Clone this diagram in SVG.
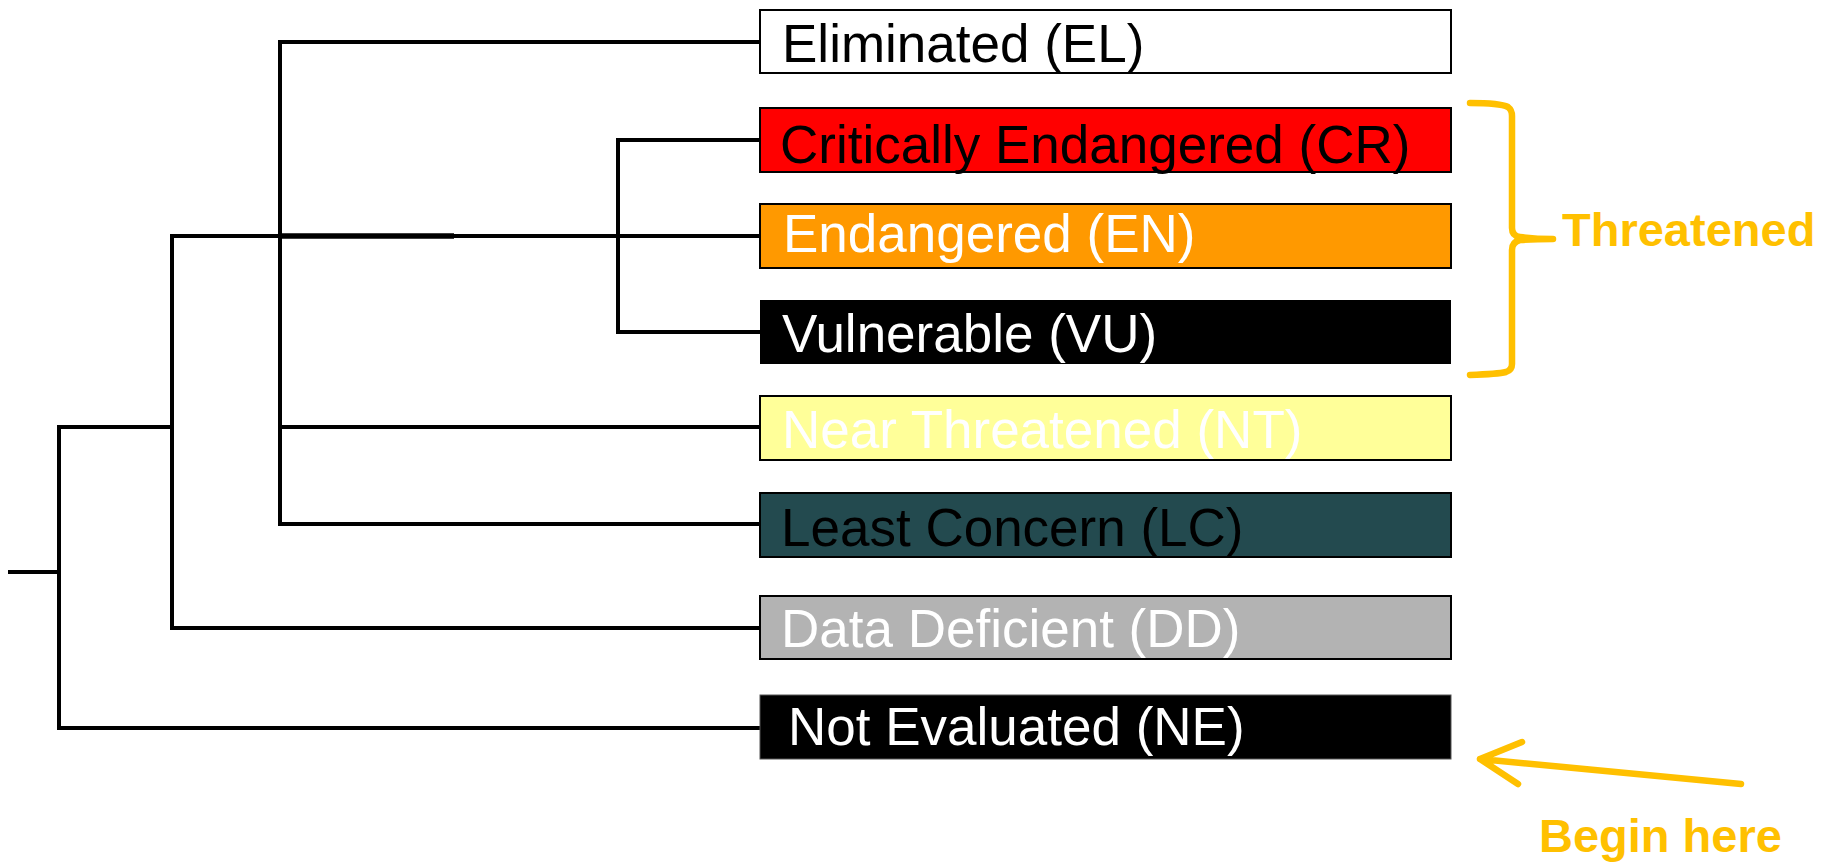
<svg xmlns="http://www.w3.org/2000/svg" width="1831" height="864" viewBox="0 0 1831 864">
<defs>
<style>
.box{stroke:#000;stroke-width:2}
.lbl{font-family:"Liberation Sans",Arial,sans-serif;font-size:53px}
.w{fill:#fff}
.k{fill:#000}
.tree{stroke:#000;stroke-width:4;fill:none;stroke-linecap:square}
.gold{stroke:#FFC000;stroke-width:6.5;fill:none;stroke-linecap:round;stroke-linejoin:round}
.gtxt{font-family:"Liberation Sans",Arial,sans-serif;font-size:47px;font-weight:bold;fill:#FFC000}
</style>
</defs>
<rect width="1831" height="864" fill="#fff"/>
<g id="connectors" class="tree">
<path d="M10 572H59M59 427V728M59 427H172M59 728H760"/>
<path d="M172 236V628M172 236H760M172 628H760"/>
<path d="M280 42V524M280 42H760M280 427H760M280 524H760"/>
<path d="M618 140V332M618 140H760M618 332H760"/>
<path d="M282 236H454" stroke-width="5.5" stroke-linecap="butt"/>
</g>
<g id="node-EL"><rect class="box" x="760" y="10" width="691" height="63" fill="#fff"/><text class="lbl k" x="782" y="62">Eliminated (EL)</text></g>
<g id="node-CR"><rect class="box" x="760" y="108" width="691" height="64" fill="#f00"/><text class="lbl k" x="780" y="163">Critically Endangered (CR)</text></g>
<g id="node-EN"><rect class="box" x="760" y="204" width="691" height="64" fill="#f90"/><text class="lbl w" x="783" y="252">Endangered (EN)</text></g>
<g id="node-VU"><rect x="760" y="300" width="691" height="64" fill="#000"/><text class="lbl w" x="782" y="352">Vulnerable (VU)</text></g>
<g id="node-NT"><rect class="box" x="760" y="396" width="691" height="64" fill="#ff9"/><text class="lbl w" x="782" y="448">Near Threatened (NT)</text></g>
<g id="node-LC"><rect class="box" x="760" y="493" width="691" height="64" fill="#234a4f" stroke="#444"/><text class="lbl k" x="781" y="546">Least Concern (LC)</text></g>
<g id="node-DD"><rect class="box" x="760" y="596" width="691" height="63" fill="#b3b3b3" stroke="#444"/><text class="lbl w" x="781" y="647">Data Deficient (DD)</text></g>
<g id="node-NE"><rect x="760" y="695" width="691" height="64" fill="#000" stroke="#555" stroke-width="1"/><text class="lbl w" x="788" y="745">Not Evaluated (NE)</text></g>
<g id="threatened">
<path class="gold" d="M1470 103Q1500 103 1508 107Q1512 110 1512 116V228Q1512 236 1520 237Q1535 239 1553 239Q1535 239 1520 240Q1512 242 1512 250V364Q1512 370 1506 372Q1498 374 1470 375"/>
<text class="gtxt" x="1562" y="246">Threatened</text>
</g>
<g id="begin-here">
<path class="gold" d="M1741 784L1480 759M1522 742L1480 759L1518 784"/>
<text class="gtxt" x="1539" y="852">Begin here</text>
</g>
</svg>
